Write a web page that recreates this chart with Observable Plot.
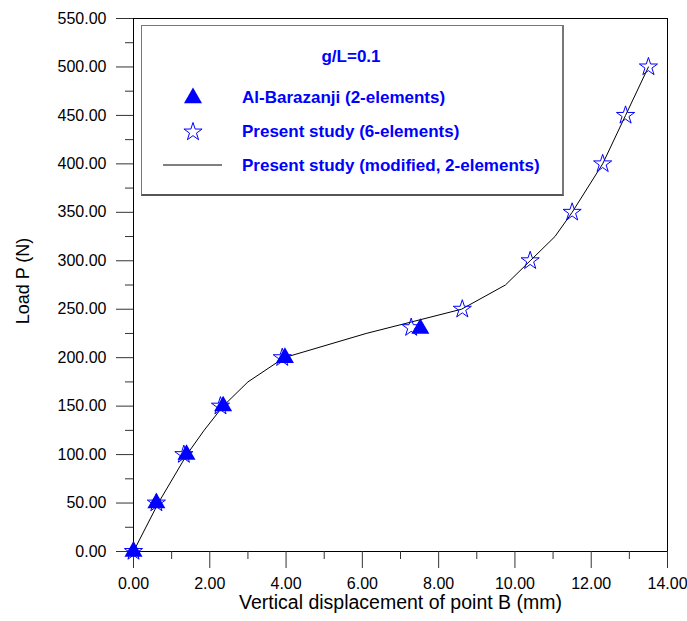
<!DOCTYPE html>
<html>
<head>
<meta charset="utf-8">
<script src="https://cdn.jsdelivr.net/npm/d3@7"></script>
<script src="https://cdn.jsdelivr.net/npm/@observablehq/plot@0.6"></script>
<style>
  html, body { margin: 0; padding: 0; background: #fff; }
  #wrap { position: relative; width: 687px; height: 621px; font-family: "Liberation Sans", Arial, sans-serif; }
  #legend { position: absolute; left: 141px; top: 25px; width: 420px; height: 168px;
            border: 1px solid #777; border-right: 2px solid #777; border-bottom: 2px solid #555; background: #fff; }
</style>
</head>
<body>
<div id="wrap"><div id="legend"></div></div>
<script>
// ---- data ----
const xTicks = [0, 2, 4, 6, 8, 10, 12, 14];
const xMinorTicks = [1, 3, 5, 7, 9, 11, 13];
const yTicks = [0, 50, 100, 150, 200, 250, 300, 350, 400, 450, 500, 550];
const yMinorTicks = [25, 75, 125, 175, 225, 275, 325, 375, 425, 475, 525];

const alBarazaniX = [0, 0.6, 1.39, 2.35, 3.97, 7.52];
const alBarazaniY = [0, 50, 100, 150, 200, 230];

const sixElemX = [0, 0.6, 1.32, 2.28, 3.9, 7.28, 8.62, 10.4, 11.5, 12.3, 12.9, 13.5];
const sixElemY = [0, 50, 100, 150, 200, 231, 250, 300, 350, 400, 450, 500];

const modifiedX = [0, 0.65, 1.4, 1.85, 2.35, 3.0, 3.95, 6.1, 8.6, 9.75, 10.4, 11.05, 11.5, 12.3, 12.9, 13.5];
const modifiedY = [0, 50, 100, 125, 150, 175, 200, 225, 250, 275, 300, 325, 350, 400, 450, 500];

const xTitle = "Vertical displacement of point B (mm)";
const yTitle = "Load P (N)";
const legendTitle = "g/L=0.1";
const seriesNames = ["Al-Barazanji (2-elements)", "Present study (6-elements)", "Present study (modified, 2-elements)"];

const blue = "#0000ff";
const font = "Liberation Sans, Arial, sans-serif";

const tri = alBarazaniX.map((x, i) => ({x, y: alBarazaniY[i]}));
const stars = sixElemX.map((x, i) => ({x, y: sixElemY[i]}));
const line = modifiedX.map((x, i) => ({x, y: modifiedY[i]}));

const fmt = d3.format(".2f");

const chart = Plot.plot({
  width: 687,
  height: 621,
  marginLeft: 133,
  marginRight: 20,
  marginTop: 18,
  marginBottom: 70,
  style: {fontFamily: font, fontSize: "16px", color: "#000", background: "#fff"},
  x: {domain: [0, 14]},
  y: {domain: [0, 550]},
  marks: [
    Plot.frame({stroke: "#000", strokeWidth: 1}),
    Plot.axisX({ticks: xTicks, tickSize: 17, tickPadding: 9, tickFormat: fmt, label: null, stroke: "#333"}),
    Plot.axisX({ticks: xMinorTicks, tickSize: 8, tickFormat: () => "", label: null, stroke: "#333"}),
    Plot.axisY({ticks: yTicks, tickSize: 17, tickPadding: 10, tickFormat: fmt, label: null, stroke: "#333"}),
    Plot.axisY({ticks: yMinorTicks, tickSize: 8, tickFormat: () => "", label: null, stroke: "#333"}),
    Plot.line(line, {x: "x", y: "y", stroke: "#000", strokeWidth: 1}),
    Plot.dot(tri, {x: "x", y: "y", symbol: "triangle", r: 6.7, fill: blue, stroke: "none"}),
    Plot.dot(stars, {x: "x", y: "y", symbol: "star", r: 5.7, fill: "none", stroke: blue, strokeWidth: 1}),
    Plot.text([xTitle], {frameAnchor: "bottom", dy: 57, text: d => d, fontSize: 19.5, fill: "#000"}),
    Plot.text([yTitle], {frameAnchor: "left", textAnchor: "middle", dx: -110, dy: -4, rotate: -90, text: d => d, fontSize: 18, fill: "#000"})
  ]
});
document.getElementById("wrap").prepend(chart);

// ---- legend ----
const lg = d3.select("#legend").append("svg").attr("width", 420).attr("height", 168)
  .style("position", "absolute").style("left", 0).style("top", 0);
lg.append("text").attr("x", 209).attr("y", 30).attr("dy", "0.35em").attr("text-anchor", "middle")
  .attr("font-family", font).attr("font-weight", "bold").attr("font-size", 17).attr("fill", blue).text(legendTitle);
const rowsY = [71, 105, 139];
seriesNames.forEach((name, i) => {
  lg.append("text").attr("x", 100).attr("y", rowsY[i]).attr("dy", "0.35em")
    .attr("font-family", font).attr("font-weight", "bold").attr("font-size", 17).attr("fill", blue).text(name);
});
lg.append("path").attr("transform", `translate(51,${rowsY[0] + 1})`)
  .attr("d", d3.symbol(d3.symbolTriangle, 6.7 * 6.7 * Math.PI)()).attr("fill", blue);
lg.append("path").attr("transform", `translate(51,${rowsY[1] + 1})`)
  .attr("d", d3.symbol(d3.symbolStar, 5.7 * 5.7 * Math.PI)()).attr("fill", "none").attr("stroke", blue);
lg.append("line").attr("x1", 21).attr("x2", 80).attr("y1", rowsY[2]).attr("y2", rowsY[2]).attr("stroke", "#000");
</script>
</body>
</html>
